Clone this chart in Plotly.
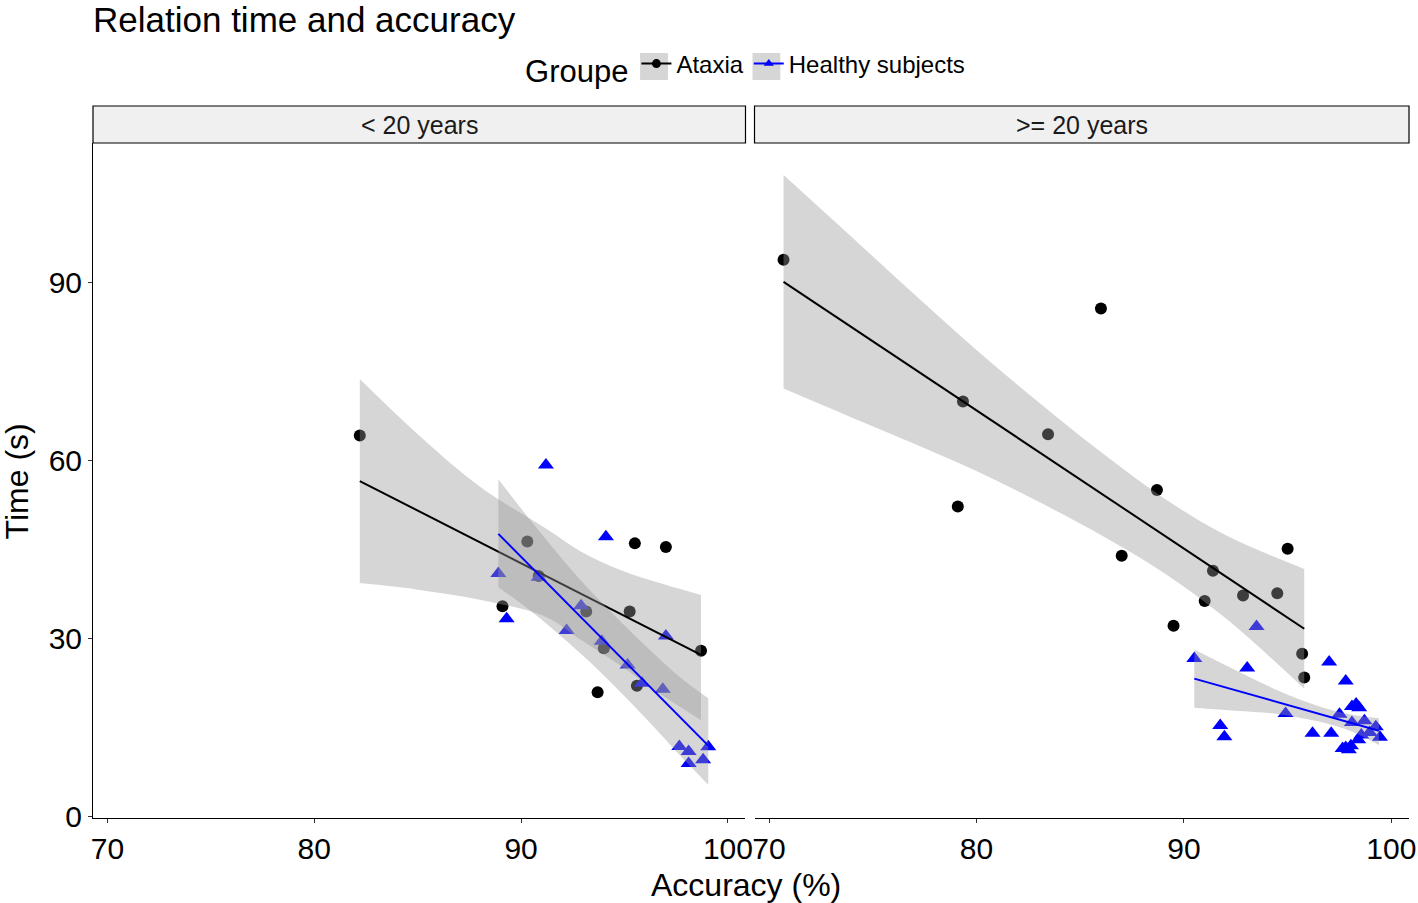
import plotly.graph_objects as go

# ---------------- data ----------------
panels = ["< 20 years", ">= 20 years"]
groups = ["Ataxia", "Healthy subjects"]

young_ataxia_acc = [82.2, 89.1, 90.3, 90.85, 93.15, 93.7, 94.0, 95.25, 95.5, 95.6, 97.0, 98.7]
young_ataxia_time = [64.3, 35.5, 46.4, 40.6, 34.6, 21.0, 28.4, 34.6, 46.1, 22.1, 45.5, 28.0]

young_healthy_acc = [88.9, 89.3, 90.85, 91.2, 92.2, 92.9, 93.9, 94.1, 95.15, 95.85, 96.85, 97.0,
                     97.65, 98.1, 98.1, 98.8, 99.05]
young_healthy_time = [41.0, 33.4, 40.4, 59.3, 31.4, 35.6, 29.6, 47.2, 25.6, 22.5, 21.5, 30.5,
                      11.85, 11.0, 9.0, 9.6, 11.8]

adult_ataxia_acc = [70.7, 79.35, 79.1, 83.45, 86.0, 87.0, 88.7, 89.5, 91.0, 91.4, 92.85, 94.5,
                    95.0, 95.7, 95.8]
adult_ataxia_time = [93.9, 70.0, 52.3, 64.5, 85.7, 44.0, 55.1, 32.2, 36.4, 41.5, 37.3, 37.7,
                     45.2, 27.5, 23.5]

adult_healthy_acc = [90.5, 91.75, 91.95, 93.05, 93.5, 94.9, 96.2, 97.0, 97.1, 97.5, 97.8, 98.1,
                     98.45, 98.3, 98.1, 98.7, 99.25, 99.45, 98.55, 98.4, 98.95, 97.8, 98.05,
                     97.65, 97.95]
adult_healthy_time = [26.7, 15.4, 13.5, 25.1, 32.1, 17.4, 14.1, 26.1, 14.1, 17.3, 22.9, 18.6,
                      18.4, 19.0, 15.9, 16.2, 15.2, 13.4, 13.8, 13.0, 14.2, 11.7, 12.0, 11.5, 11.3]

# linear fits (lm) and 95% confidence bands
young_ataxia_fit_x = [82.2, 98.7]
young_ataxia_fit_y = [56.6, 27.3]
young_ataxia_band_x = [82.2, 85.0, 88.0, 91.2, 92.9, 94.8, 96.7, 98.7]
young_ataxia_band_hi = [73.8, 64.5, 55.7, 48.6, 44.7, 41.6, 39.4, 37.4]
young_ataxia_band_lo = [39.4, 38.3, 36.6, 33.7, 29.8, 25.5, 20.8, 16.3]

young_healthy_fit_x = [88.9, 99.05]
young_healthy_fit_y = [47.7, 12.0]
young_healthy_band_x = [88.9, 90.5, 92.85, 94.5, 96.0, 97.7, 99.05]
young_healthy_band_hi = [56.9, 49.8, 40.0, 34.0, 28.9, 23.5, 20.0]
young_healthy_band_lo = [38.7, 34.6, 27.6, 22.1, 16.7, 10.3, 5.4]

adult_ataxia_fit_x = [70.7, 95.8]
adult_ataxia_fit_y = [90.2, 31.7]
adult_ataxia_band_x = [70.7, 74.0, 77.0, 80.0, 83.0, 86.0, 89.0, 92.0, 95.8]
adult_ataxia_band_hi = [108.2, 97.7, 88.1, 78.7, 69.9, 61.5, 53.8, 47.5, 41.8]
adult_ataxia_band_lo = [72.2, 67.3, 62.9, 58.3, 53.1, 47.5, 41.2, 33.5, 21.6]

adult_healthy_fit_x = [90.5, 99.4]
adult_healthy_fit_y = [23.3, 14.5]
adult_healthy_band_x = [90.5, 92.5, 94.5, 96.5, 98.0, 99.4]
adult_healthy_band_hi = [28.2, 24.7, 21.35, 18.65, 17.3, 16.6]
adult_healthy_band_lo = [18.4, 17.9, 17.35, 16.05, 14.5, 12.1]

x_ticks = [70, 80, 90, 100]
y_ticks = [0, 30, 60, 90]

# ---------------- styling ----------------
FONT = "Liberation Sans, Arial, sans-serif"
colors = {"Ataxia": "#000000", "Healthy subjects": "#0000ff"}
symbols = {"Ataxia": "circle", "Healthy subjects": "triangle-up"}
sizes = {"Ataxia": 12, "Healthy subjects": 14}
BAND = "rgba(153,153,153,0.4)"

data = {
    ("x", "y"): {
        "Ataxia": (young_ataxia_acc, young_ataxia_time, young_ataxia_fit_x, young_ataxia_fit_y,
                   young_ataxia_band_x, young_ataxia_band_hi, young_ataxia_band_lo),
        "Healthy subjects": (young_healthy_acc, young_healthy_time, young_healthy_fit_x,
                             young_healthy_fit_y, young_healthy_band_x, young_healthy_band_hi,
                             young_healthy_band_lo),
    },
    ("x2", "y2"): {
        "Ataxia": (adult_ataxia_acc, adult_ataxia_time, adult_ataxia_fit_x, adult_ataxia_fit_y,
                   adult_ataxia_band_x, adult_ataxia_band_hi, adult_ataxia_band_lo),
        "Healthy subjects": (adult_healthy_acc, adult_healthy_time, adult_healthy_fit_x,
                             adult_healthy_fit_y, adult_healthy_band_x, adult_healthy_band_hi,
                             adult_healthy_band_lo),
    },
}

fig = go.Figure()

for (xa, ya), grp in data.items():
    # points first
    for g in groups:
        px, py = grp[g][0], grp[g][1]
        fig.add_trace(go.Scatter(
            x=px, y=py, mode="markers", xaxis=xa, yaxis=ya, showlegend=False,
            marker=dict(color=colors[g], symbol=symbols[g], size=sizes[g], line=dict(width=0)),
        ))
    # then smooth: ribbon + line per group
    for g in groups:
        _, _, fx, fy, bx, bhi, blo = grp[g]
        fig.add_trace(go.Scatter(
            x=bx, y=blo, mode="lines", xaxis=xa, yaxis=ya, showlegend=False,
            line=dict(width=0, shape="spline", smoothing=1.0), hoverinfo="skip",
        ))
        fig.add_trace(go.Scatter(
            x=bx, y=bhi, mode="lines", xaxis=xa, yaxis=ya, showlegend=False,
            line=dict(width=0, shape="spline", smoothing=1.0), fill="tonexty",
            fillcolor=BAND, hoverinfo="skip",
        ))
        fig.add_trace(go.Scatter(
            x=fx, y=fy, mode="lines", xaxis=xa, yaxis=ya, showlegend=False,
            line=dict(color=colors[g], width=2),
        ))

# legend entries
for g in groups:
    fig.add_trace(go.Scatter(
        x=[None], y=[None], mode="lines+markers", name=g, xaxis="x", yaxis="y",
        marker=dict(color=colors[g], symbol=symbols[g], size=9),
        line=dict(color=colors[g], width=2),
    ))

W, H = 1418, 903
ML, MR, MT, MB = 93, 2, 143, 85
pw = W - ML - MR
ph = H - MT - MB
PL, PR = 93, 1408  # reference plot-area extent in px (left, right)
left_dom = [(93 - PL) / (PR - PL), (745 - PL) / (PR - PL)]
right_dom = [(754 - PL) / (PR - PL), 1]

axis_common = dict(
    showgrid=False, zeroline=False, ticks="outside", ticklen=4, tickwidth=1,
    tickcolor="#333333", tickfont=dict(size=30, color="#000000", family=FONT),
)
x_range = [69.3, 100.85]
y_range = [-0.2, 113.6]

fig.update_layout(
    width=W, height=H, autosize=False,
    margin=dict(l=ML, r=MR, t=MT, b=MB),
    paper_bgcolor="white", plot_bgcolor="white",
    font=dict(family=FONT, color="#000000"),
    title=dict(text="Relation time and accuracy", x=ML / W, xref="container", xanchor="left",
               y=1 - 20 / H, yref="container", yanchor="middle",
               font=dict(size=35, family=FONT, color="#000000")),
    xaxis=dict(domain=left_dom, range=x_range, tickvals=x_ticks, showline=True,
               linecolor="#000000", linewidth=1, anchor="y", **axis_common),
    xaxis2=dict(domain=right_dom, range=x_range, tickvals=x_ticks, showline=True,
                linecolor="#000000", linewidth=1, anchor="y2", **axis_common),
    yaxis=dict(domain=[0, 1], range=y_range, tickvals=y_ticks, showline=True,
               linecolor="#000000", linewidth=1, anchor="x", **axis_common),
    yaxis2=dict(domain=[0, 1], range=y_range, tickvals=y_ticks, showline=False,
                showticklabels=False, showgrid=False, zeroline=False, ticks="", anchor="x2",
                matches="y"),
    legend=dict(
        orientation="h", x=(750 - ML) / pw, xanchor="center", y=(818 - 67) / ph,
        yanchor="middle", yref="paper", bgcolor="rgba(0,0,0,0)", traceorder="normal",
        title=dict(text="Groupe", font=dict(size=31, family=FONT, color="#000000"), side="left"),
        font=dict(size=24, family=FONT, color="#000000"),
        itemwidth=30, tracegroupgap=0,
    ),
    showlegend=True,
)

# grey legend key backgrounds (ggplot style), placed behind the legend symbols
for kx in (643, 756):
    fig.add_shape(type="rect", xref="paper", yref="paper",
                  x0=(kx - ML) / pw, x1=(kx + 28 - ML) / pw,
                  y0=(818 - 80) / ph, y1=(818 - 53) / ph,
                  fillcolor="#d6d6d6", line=dict(width=0), layer="below")

# facet strips
for xa, ya, label in [("x", "y", panels[0]), ("x2", "y2", panels[1])]:
    fig.add_shape(type="rect", xref=f"{xa} domain", yref=f"{ya} domain",
                  x0=0, x1=1, y0=1, y1=1 + 37 / ph,
                  fillcolor="#f0f0f0", line=dict(color="#000000", width=1.2), layer="above")
    fig.add_annotation(text=label, xref=f"{xa} domain", yref=f"{ya} domain",
                       x=0.5, y=1 + 18.5 / ph, showarrow=False, xanchor="center",
                       yanchor="middle", font=dict(size=25, family=FONT, color="#1a1a1a"))

# axis titles
fig.add_annotation(text="Accuracy (%)", xref="paper", yref="paper", x=(749 - ML) / pw,
                   y=(818 - 885) / ph, showarrow=False, xanchor="center", yanchor="middle",
                   font=dict(size=32, family=FONT, color="#000000"))
fig.add_annotation(text="Time (s)", xref="paper", yref="paper", x=(17 - ML) / pw,
                   y=(818 - 481) / ph, showarrow=False, xanchor="center", yanchor="middle",
                   textangle=-90, font=dict(size=32, family=FONT, color="#000000"))

fig.write_html("out.html",
               config={"displayModeBar": False, "responsive": False},
               post_script="document.body.style.margin='0px';"
                           "document.body.style.overflow='hidden';")
